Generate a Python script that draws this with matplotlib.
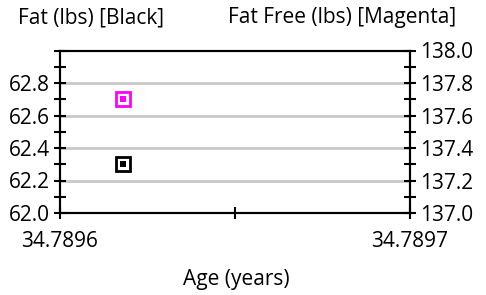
import matplotlib
matplotlib.use("Agg")
import matplotlib.pyplot as plt
from matplotlib.ticker import FixedLocator, MultipleLocator, FixedFormatter

plt.rcParams['font.family'] = ['Open Sans', 'DejaVu Sans']

age = [34.789618]
fat = [62.3]
fat_free = [137.7]

left_ticks = [62.0, 62.2, 62.4, 62.6, 62.8, 63.0]
left_labels = ['62.0', '62.2', '62.4', '62.6', '62.8', '']
right_ticks = [137.0, 137.2, 137.4, 137.6, 137.8, 138.0]
right_labels = ['137.0', '137.2', '137.4', '137.6', '137.8', '138.0']
x_ticks = [34.7896, 34.78965, 34.7897]
x_labels = ['34.7896', '', '34.7897']

fig = plt.figure(figsize=(4.86, 2.95), dpi=100)
ax = fig.add_axes([60/486, 1-213/295, 350/486, 162.5/295])
ax2 = ax.twinx()

ax.set_xlim(34.7896, 34.7897)
ax.set_ylim(62.0, 63.0)
ax2.set_ylim(137.0, 138.0)

for s in ax.spines.values():
    s.set_linewidth(1.5)
for s in ax2.spines.values():
    s.set_linewidth(1.5)

ax.yaxis.set_major_locator(FixedLocator(left_ticks))
ax.yaxis.set_major_formatter(FixedFormatter(left_labels))
ax.yaxis.set_minor_locator(MultipleLocator(0.1))
ax2.yaxis.set_major_locator(FixedLocator(right_ticks))
ax2.yaxis.set_major_formatter(FixedFormatter(right_labels))
ax2.yaxis.set_minor_locator(MultipleLocator(0.1))
ax.xaxis.set_major_locator(FixedLocator(x_ticks))
ax.xaxis.set_major_formatter(FixedFormatter(x_labels))

fs = 15
ax.tick_params(axis='y', which='both', direction='inout', length=8, width=1.5, labelsize=fs, pad=3)
ax2.tick_params(axis='y', which='both', direction='inout', length=8, width=1.5, labelsize=fs, pad=3)
ax.tick_params(axis='x', which='major', direction='inout', length=9, width=1.5, labelsize=fs, pad=8.5)

for y in [62.2, 62.4, 62.6, 62.8]:
    ax.axhline(y, color='#c8c8c8', lw=2, zorder=0)

# Fat (black) markers
ax.plot(age, fat, linestyle='none', marker='s', markersize=9.5, markerfacecolor='white',
        markeredgecolor='black', markeredgewidth=2, zorder=3)
ax.plot(age, fat, linestyle='none', marker='s', markersize=4.8, markerfacecolor='black',
        markeredgecolor='black', markeredgewidth=0, zorder=4)
# Fat free (magenta) markers
ax2.plot(age, fat_free, linestyle='none', marker='s', markersize=9.5, markerfacecolor='white',
         markeredgecolor='#ff00ff', markeredgewidth=2, zorder=3)
ax2.plot(age, fat_free, linestyle='none', marker='s', markersize=4.8, markerfacecolor='#ff00ff',
         markeredgecolor='#ff00ff', markeredgewidth=0, zorder=4)

fig.text(18/486, 1-18/295, 'Fat (lbs) [Black]', fontsize=fs, ha='left', va='center')
fig.text(228/486, 1-18/295, 'Fat Free (lbs) [Magenta]', fontsize=fs, ha='left', va='center')
fig.text(236/486, 1-280/295, 'Age (years)', fontsize=fs, ha='center', va='center')

fig.savefig('out.png', dpi=100)
